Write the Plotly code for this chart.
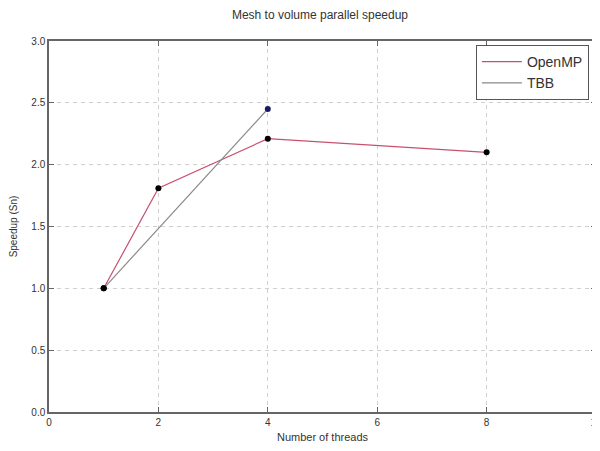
import plotly.graph_objects as go

openmp_threads = [1, 2, 4, 8]
openmp_speedup = [1.0, 1.81, 2.21, 2.10]
tbb_threads = [1, 4]
tbb_speedup = [1.0, 2.45]

x_ticks = [0, 2, 4, 6, 8, 10]
y_ticks = [0.0, 0.5, 1.0, 1.5, 2.0, 2.5, 3.0]

fig = go.Figure()
fig.add_trace(go.Scatter(x=openmp_threads, y=openmp_speedup, mode="lines",
                         line=dict(color="#c8506e", width=1.2), name="OpenMP"))
fig.add_trace(go.Scatter(x=tbb_threads, y=tbb_speedup, mode="lines",
                         line=dict(color="#8a8a8a", width=1.2), name="TBB"))
fig.add_trace(go.Scatter(x=openmp_threads, y=openmp_speedup, mode="markers",
                         marker=dict(color="black", size=6), showlegend=False))
fig.add_trace(go.Scatter(x=tbb_threads, y=tbb_speedup, mode="markers",
                         marker=dict(color=["black", "#1a1a60"], size=6), showlegend=False))

axis_common = dict(showline=True, linecolor="#666666", linewidth=1.5, mirror="ticks",
                   ticks="inside", ticklen=5, tickcolor="#666666",
                   showgrid=True, gridcolor="#d0d0d0", griddash="4px,4px", gridwidth=1,
                   zeroline=False, automargin=False,
                   tickfont=dict(size=10, color="#333333"))

fig.update_xaxes(range=[0, 10], tickvals=x_ticks, ticktext=[str(v) for v in x_ticks],
                 title=dict(text="Number of threads", font=dict(size=11, color="#333333"), standoff=7),
                 **axis_common)
fig.update_yaxes(range=[0, 3], tickvals=y_ticks, ticktext=[f"{v:.1f}" for v in y_ticks],
                 title=dict(text="Speedup (Sn)", font=dict(size=10, color="#333333"), standoff=12),
                 **axis_common)

fig.update_layout(
    width=600, height=451,
    margin=dict(l=41, r=12, t=33, b=47),
    paper_bgcolor="white", plot_bgcolor="white",
    font=dict(family="Liberation Sans, Arial, sans-serif", color="#333333"),
    title=dict(text="Mesh to volume parallel speedup", x=0.52, xanchor="center",
               y=0.986, yanchor="middle", font=dict(size=12, color="#333333")),
    legend=dict(x=0.987, xanchor="right", y=0.989, yanchor="top",
                bgcolor="white", bordercolor="#555555", borderwidth=1,
                itemwidth=40, tracegroupgap=6,
                font=dict(size=14, color="#333333")),
)

fig.write_html("out.html")
